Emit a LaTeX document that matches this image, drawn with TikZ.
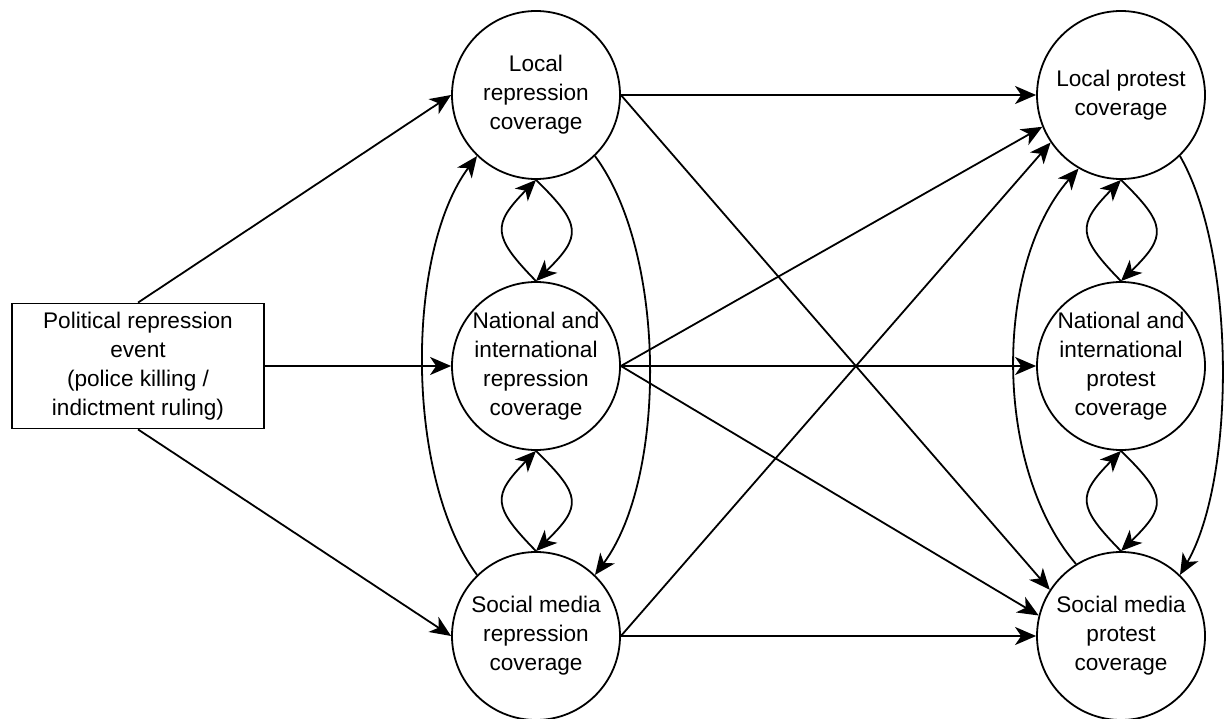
\documentclass[tikz,border=0pt]{standalone}
\usepackage{fontspec}
\setmainfont{Liberation Sans}
\usetikzlibrary{arrows.meta}
\begin{document}
\begin{tikzpicture}[x=1pt,y=-1pt,
  every node/.style={font=\fontsize{22.6}{29}\selectfont, align=center},
  cnode/.style={circle, draw, line width=1.8pt, minimum size=168pt, inner sep=-14pt},
  bnode/.style={rectangle, draw, line width=1.8pt, minimum width=252pt, minimum height=125pt, inner sep=0pt},
  arr/.style={line width=1.8pt, -{Stealth[length=21pt,width=18pt,inset=6pt]}},
]
\useasboundingbox (0,0) rectangle (1225,719);

\node[bnode] (ev) at (138,366) {Political repression\\event\\(police killing /\\indictment ruling)};
\node[cnode] (L1) at (536,95) {Local\\repression\\coverage};
\node[cnode] (L2) at (536,366) {National and\\international\\repression\\coverage};
\node[cnode] (L3) at (536,636) {Social media\\repression\\coverage};
\node[cnode] (P1) at (1121,95) {Local protest\\coverage};
\node[cnode] (P2) at (1121,366) {National and\\international\\protest\\coverage};
\node[cnode] (P3) at (1121,636) {Social media\\protest\\coverage};

% straight connectors
\draw[arr] (ev.north) -- (L1.west);
\draw[arr] (ev.east) -- (L2.west);
\draw[arr] (ev.south) -- (L3.west);
\draw[arr] (L1.east) -- (P1.west);
\draw[arr] (L1.east) -- (P3.147);
\draw[arr] (L2.east) -- (P1.202);
\draw[arr] (L2.east) -- (P2.west);
\draw[arr] (L2.east) -- (P3.166);
\draw[arr] (L3.east) -- (P3.west);
\draw[arr] (L3.east) -- (P1.214);

% outer curves, repression column
\draw[arr] (L3.134) .. controls +(-72,-97) and +(-72,97) .. (L1.226);
\draw[arr] (L1.314) .. controls +(72,97) and +(72,-97) .. (L3.46);
% outer curves, protest column
\draw[arr] (P3.122) .. controls +(-83,-97) and +(-85,97) .. (P1.240);
\draw[arr] (P1.314) .. controls +(56,97) and +(56,-97) .. (P3.46);

% lenses
\draw[arr] (L2.north) .. controls +(-44,-45) and +(-44,45) .. (L1.south);
\draw[arr] (L1.south) .. controls +(46,45) and +(46,-45) .. (L2.north);
\draw[arr] (L3.north) .. controls +(-44,-45) and +(-44,45) .. (L2.south);
\draw[arr] (L2.south) .. controls +(46,45) and +(46,-45) .. (L3.north);
\draw[arr] (P2.north) .. controls +(-44,-45) and +(-44,45) .. (P1.south);
\draw[arr] (P1.south) .. controls +(46,45) and +(46,-45) .. (P2.north);
\draw[arr] (P3.north) .. controls +(-44,-45) and +(-44,45) .. (P2.south);
\draw[arr] (P2.south) .. controls +(46,45) and +(46,-45) .. (P3.north);
\end{tikzpicture}
\end{document}
